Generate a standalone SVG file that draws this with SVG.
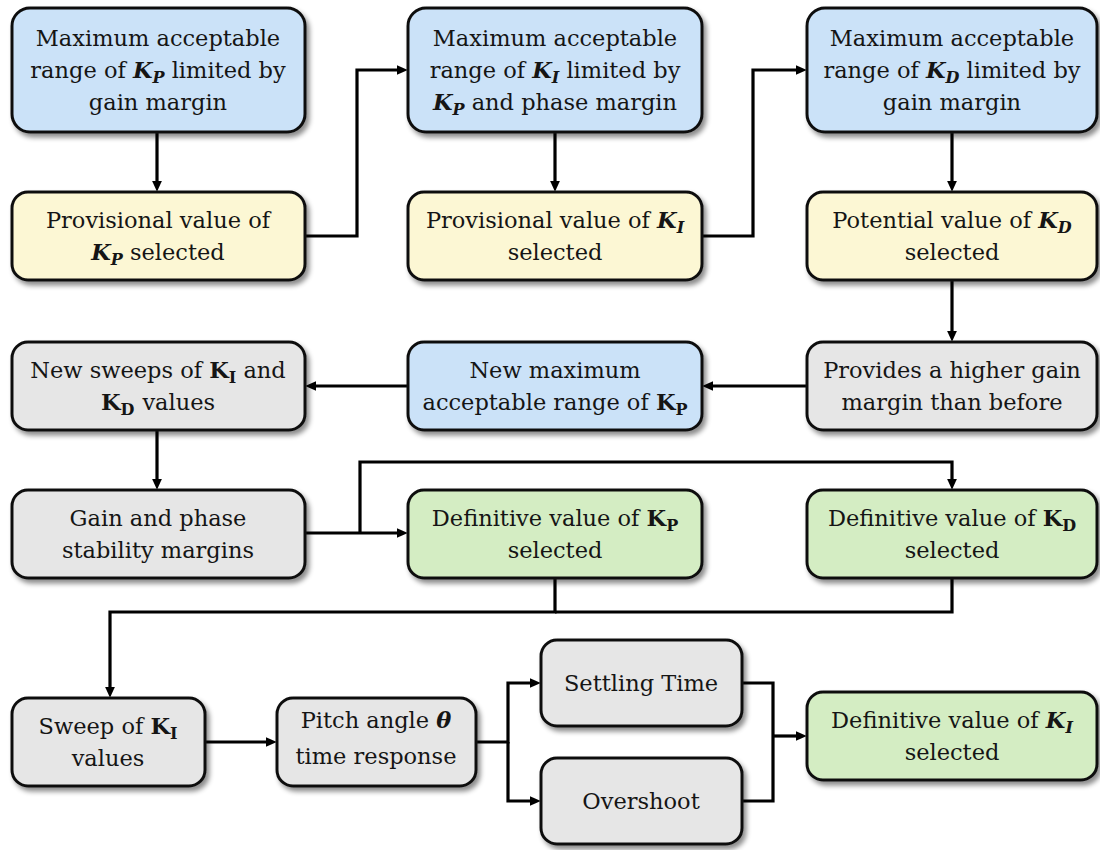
<svg xmlns="http://www.w3.org/2000/svg" width="1100" height="850" viewBox="0 0 1100 850">
<style>
.box{stroke:#111;stroke-width:3}
.blue{fill:#cbe2f8}
.yellow{fill:#fcf7d4}
.gray{fill:#e6e6e6}
.green{fill:#d4edc3}
text{font-family:"DejaVu Serif","Liberation Serif",serif;font-size:22.5px;fill:#151515;text-anchor:middle}
.k{font-weight:bold}
.ki{font-weight:bold;font-style:italic}
.sub{font-size:16px}
.conn path{fill:none;stroke:#000;stroke-width:3.2}
</style>
<defs>
<filter id="sh" x="-10%" y="-10%" width="130%" height="140%">
<feDropShadow dx="3" dy="4" stdDeviation="2.5" flood-color="#000" flood-opacity="0.45"/>
</filter>
<marker id="ar" viewBox="0 0 10 10" refX="2" refY="5" markerWidth="11" markerHeight="11" markerUnits="userSpaceOnUse" orient="auto">
<path d="M0,0.5 L10,5 L0,9.5 z" fill="#000"/>
</marker>
</defs>

<g class="conn" id="connectors">
<path d="M157,132 V183" marker-end="url(#ar)"/>
<path d="M555,132 V183" marker-end="url(#ar)"/>
<path d="M952,132 V183" marker-end="url(#ar)"/>
<path d="M305,236 H357 V70 H399" marker-end="url(#ar)"/>
<path d="M702,236 H753 V70 H798" marker-end="url(#ar)"/>
<path d="M952,280 V333" marker-end="url(#ar)"/>
<path d="M807,386 H711" marker-end="url(#ar)"/>
<path d="M408,386 H314" marker-end="url(#ar)"/>
<path d="M157,430 V481" marker-end="url(#ar)"/>
<path d="M305,533 H399" marker-end="url(#ar)"/>
<path d="M360,533 V462 H952 V481" marker-end="url(#ar)"/>
<path d="M555,578 V612 H110 V689" marker-end="url(#ar)"/>
<path d="M952,578 V612 H555"/>
<path d="M205,742 H268" marker-end="url(#ar)"/>
<path d="M476,742 H508 V683 H532" marker-end="url(#ar)"/>
<path d="M508,742 V801 H532" marker-end="url(#ar)"/>
<path d="M742,683 H773 V801 H742"/>
<path d="M773,736 H798" marker-end="url(#ar)"/>
</g>

<g id="n1">
<rect class="box blue" x="12" y="8" width="293" height="124" rx="18" filter="url(#sh)"/>
<text x="158" y="46">Maximum acceptable</text>
<text x="158" y="78">range of <tspan class="ki">K</tspan><tspan class="ki sub" dy="5">P</tspan><tspan dy="-5"> limited by</tspan></text>
<text x="158" y="110">gain margin</text>
</g>
<g id="n2">
<rect class="box yellow" x="12" y="192" width="293" height="88" rx="16" filter="url(#sh)"/>
<text x="158" y="228">Provisional value of</text>
<text x="158" y="260"><tspan class="ki">K</tspan><tspan class="ki sub" dy="5">P</tspan><tspan dy="-5"> selected</tspan></text>
</g>
<g id="n3">
<rect class="box blue" x="408" y="8" width="294" height="124" rx="18" filter="url(#sh)"/>
<text x="555" y="46">Maximum acceptable</text>
<text x="555" y="78">range of <tspan class="ki">K</tspan><tspan class="ki sub" dy="5">I</tspan><tspan dy="-5"> limited by</tspan></text>
<text x="555" y="110"><tspan class="ki">K</tspan><tspan class="ki sub" dy="5">P</tspan><tspan dy="-5"> and phase margin</tspan></text>
</g>
<g id="n4">
<rect class="box yellow" x="408" y="192" width="294" height="88" rx="16" filter="url(#sh)"/>
<text x="555" y="228">Provisional value of <tspan class="ki">K</tspan><tspan class="ki sub" dy="5">I</tspan></text>
<text x="555" y="260">selected</text>
</g>
<g id="n5">
<rect class="box blue" x="807" y="8" width="290" height="124" rx="18" filter="url(#sh)"/>
<text x="952" y="46">Maximum acceptable</text>
<text x="952" y="78">range of <tspan class="ki">K</tspan><tspan class="ki sub" dy="5">D</tspan><tspan dy="-5"> limited by</tspan></text>
<text x="952" y="110">gain margin</text>
</g>
<g id="n6">
<rect class="box yellow" x="807" y="192" width="290" height="88" rx="16" filter="url(#sh)"/>
<text x="952" y="228">Potential value of <tspan class="ki">K</tspan><tspan class="ki sub" dy="5">D</tspan></text>
<text x="952" y="260">selected</text>
</g>
<g id="n7">
<rect class="box gray" x="807" y="342" width="290" height="88" rx="16" filter="url(#sh)"/>
<text x="952" y="378">Provides a higher gain</text>
<text x="952" y="410">margin than before</text>
</g>
<g id="n8">
<rect class="box blue" x="408" y="342" width="294" height="88" rx="16" filter="url(#sh)"/>
<text x="555" y="378">New maximum</text>
<text x="555" y="410">acceptable range of <tspan class="k">K</tspan><tspan class="k sub" dy="5">P</tspan></text>
</g>
<g id="n9">
<rect class="box gray" x="12" y="342" width="293" height="88" rx="16" filter="url(#sh)"/>
<text x="158" y="378">New sweeps of <tspan class="k">K</tspan><tspan class="k sub" dy="5">I</tspan><tspan dy="-5"> and</tspan></text>
<text x="158" y="410"><tspan class="k">K</tspan><tspan class="k sub" dy="5">D</tspan><tspan dy="-5" dx="8">values</tspan></text>
</g>
<g id="n10">
<rect class="box gray" x="12" y="490" width="293" height="88" rx="16" filter="url(#sh)"/>
<text x="158" y="526">Gain and phase</text>
<text x="158" y="558">stability margins</text>
</g>
<g id="n11">
<rect class="box green" x="408" y="490" width="294" height="88" rx="16" filter="url(#sh)"/>
<text x="555" y="526">Definitive value of <tspan class="k">K</tspan><tspan class="k sub" dy="5">P</tspan></text>
<text x="555" y="558">selected</text>
</g>
<g id="n12">
<rect class="box green" x="807" y="490" width="290" height="88" rx="16" filter="url(#sh)"/>
<text x="952" y="526">Definitive value of <tspan class="k">K</tspan><tspan class="k sub" dy="5">D</tspan></text>
<text x="952" y="558">selected</text>
</g>
<g id="n13">
<rect class="box gray" x="12" y="698" width="193" height="88" rx="16" filter="url(#sh)"/>
<text x="108" y="734">Sweep of <tspan class="k">K</tspan><tspan class="k sub" dy="5">I</tspan></text>
<text x="108" y="766">values</text>
</g>
<g id="n14">
<rect class="box gray" x="277" y="698" width="199" height="88" rx="16" filter="url(#sh)"/>
<text x="376" y="728">Pitch angle <tspan class="ki">θ</tspan></text>
<text x="376" y="764">time response</text>
</g>
<g id="n15">
<rect class="box gray" x="541" y="640" width="201" height="86" rx="16" filter="url(#sh)"/>
<text x="641" y="691">Settling Time</text>
</g>
<g id="n16">
<rect class="box gray" x="541" y="758" width="201" height="86" rx="16" filter="url(#sh)"/>
<text x="641" y="809">Overshoot</text>
</g>
<g id="n17">
<rect class="box green" x="807" y="692" width="290" height="88" rx="16" filter="url(#sh)"/>
<text x="952" y="728">Definitive value of <tspan class="ki">K</tspan><tspan class="ki sub" dy="5">I</tspan></text>
<text x="952" y="760">selected</text>
</g>
</svg>
